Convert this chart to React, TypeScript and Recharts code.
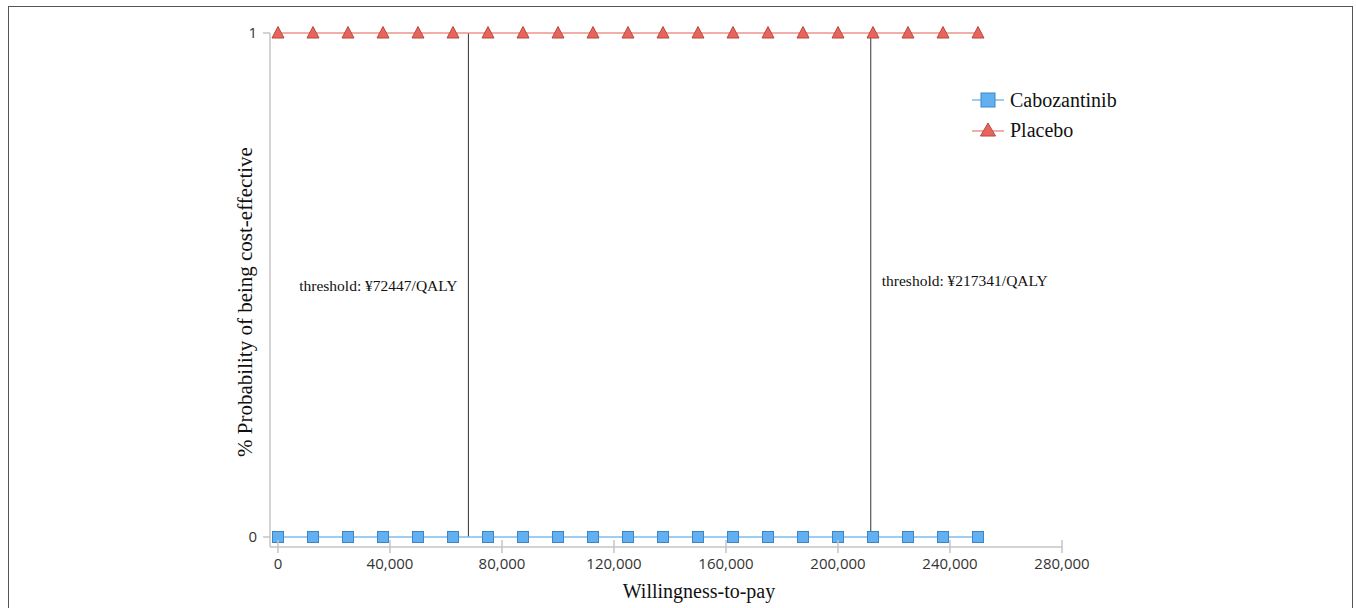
import React from 'react';
import { LineChart, Line, XAxis, YAxis, ReferenceLine, Label } from 'recharts';

const wtpValues = [0, 12500, 25000, 37500, 50000, 62500, 75000, 87500, 100000, 112500, 125000, 137500, 150000, 162500, 175000, 187500, 200000, 212500, 225000, 237500, 250000];
const cabozantinibProb = [0, 0, 0, 0, 0, 0, 0, 0, 0, 0, 0, 0, 0, 0, 0, 0, 0, 0, 0, 0, 0];
const placeboProb = [1, 1, 1, 1, 1, 1, 1, 1, 1, 1, 1, 1, 1, 1, 1, 1, 1, 1, 1, 1, 1];
const xTicks = [0, 40000, 80000, 120000, 160000, 200000, 240000, 280000];
const yTicks = [0, 1];
const thresholdX = [68000, 211700];
const thresholdLabels = ['threshold: ¥72447/QALY', 'threshold: ¥217341/QALY'];
const seriesNames = ['Cabozantinib', 'Placebo'];

const data = wtpValues.map((w, i) => ({ wtp: w, cabo: cabozantinibProb[i], placebo: placeboProb[i] }));

const SERIF = '"Liberation Serif", "Times New Roman", serif';
const SANS = '"Open Sans", "Noto Sans", sans-serif';
const AXIS_COLOR = '#c4c4c4';
const X_TICK_SIZE = 6;
const X_TICK_MARGIN = 5;

const BLUE_FILL = '#62b0f2';
const BLUE_STROKE = '#3d86c6';
const BLUE_LINE = '#7dbdee';
const RED_FILL = '#e8655c';
const RED_STROKE = '#b84840';
const RED_LINE = '#f0938c';

const SquareDot = (p: any) => {
  if (p.cx == null || p.cy == null) return null;
  return <rect key={`s${p.index}`} x={p.cx - 5.5} y={p.cy - 5.5} width={11} height={11} fill={BLUE_FILL} stroke={BLUE_STROKE} strokeWidth={1} />;
};
const TriangleDot = (p: any) => {
  if (p.cx == null || p.cy == null) return null;
  const { cx, cy } = p;
  return <polygon key={`t${p.index}`} points={`${cx},${cy - 6.5} ${cx + 6},${cy + 5} ${cx - 6},${cy + 5}`} fill={RED_FILL} stroke={RED_STROKE} strokeWidth={1} />;
};

const fmt = (v: number) => v.toLocaleString('en-US');

const XTick = (props: any) => {
  const { x, y, payload } = props;
  const axisY = y - X_TICK_SIZE - X_TICK_MARGIN;
  return (
    <g>
      <line x1={x} x2={x} y1={axisY - 7} y2={axisY} stroke={AXIS_COLOR} strokeWidth={1.5} />
      <text x={x} y={y} dy="0.71em" textAnchor="middle" fontSize={15} fill="#333" fontFamily={SANS}>{fmt(payload.value)}</text>
    </g>
  );
};

const YTitle = (props: any) => {
  const vb = props.viewBox;
  const cx = vb.x + vb.width / 2 + 5;
  const cy = vb.y + vb.height / 2 + 12;
  return (
    <text x={cx} y={cy} transform={`rotate(-90 ${cx} ${cy})`} textAnchor="middle" dominantBaseline="central" fontSize={21} fontFamily={SERIF} fill="#111">
      % Probability of being cost-effective
    </text>
  );
};

const XTitle = (props: any) => {
  const vb = props.viewBox;
  const cx = vb.x + vb.width / 2 + 33;
  const cy = vb.y + vb.height + 14;
  return (
    <text x={cx} y={cy} textAnchor="middle" dominantBaseline="central" fontSize={20} fontFamily={SERIF} fill="#111">
      Willingness-to-pay
    </text>
  );
};

const LegendBox = () => {
  const items = [
    { name: seriesNames[0], kind: 'square' },
    { name: seriesNames[1], kind: 'triangle' },
  ];
  return (
    <div style={{ position: 'absolute', left: 972, top: 85, display: 'flex', flexDirection: 'column' }}>
      {items.map((it) => (
        <div key={it.name} style={{ display: 'flex', alignItems: 'center', height: 30 }}>
          <svg width={34} height={18} style={{ marginRight: 4 }}>
            {it.kind === 'square' ? (
              <g>
                <line x1={0} x2={32} y1={9} y2={9} stroke={BLUE_LINE} strokeWidth={1.5} />
                <rect x={9} y={2} width={14} height={14} fill={BLUE_FILL} stroke={BLUE_STROKE} />
              </g>
            ) : (
              <g>
                <line x1={0} x2={32} y1={10} y2={10} stroke={RED_LINE} strokeWidth={1.5} />
                <polygon points="16,2 23.5,15 8.5,15" fill={RED_FILL} stroke={RED_STROKE} />
              </g>
            )}
          </svg>
          <span style={{ fontFamily: SERIF, fontSize: 20, color: '#111' }}>{it.name}</span>
        </div>
      ))}
    </div>
  );
};

export default function App() {
  return (
    <div style={{ position: 'absolute', left: 0, top: 0, width: 1356, height: 608, overflow: 'hidden', background: '#fff' }}>
      <div style={{ position: 'absolute', left: 8, top: 6, width: 1343, height: 610, borderTop: '1px solid #555', borderLeft: '1px solid #555', borderRight: '1px solid #555' }} />
      <div style={{ position: 'absolute', left: 0, top: 0 }}>
        <LineChart width={1356} height={608} data={data} margin={{ top: 33, right: 294, bottom: 31, left: 210 }}>
          <XAxis
            dataKey="wtp"
            type="number"
            domain={[0, 280000]}
            ticks={xTicks}
            padding={{ left: 8, right: 0 }}
            height={30}
            tickSize={X_TICK_SIZE}
            tickMargin={X_TICK_MARGIN}
            stroke={AXIS_COLOR}
            axisLine={{ stroke: AXIS_COLOR, strokeWidth: 1.5 }}
            tickLine={{ stroke: AXIS_COLOR, strokeWidth: 1.5 }}
            tick={<XTick />}
            interval={0}
          >
            <Label content={<XTitle />} />
          </XAxis>
          <YAxis
            type="number"
            domain={[0, 1]}
            ticks={yTicks}
            padding={{ top: 0, bottom: 10 }}
            width={60}
            tickSize={7}
            tickMargin={6}
            axisLine={{ stroke: AXIS_COLOR, strokeWidth: 1.5 }}
            tickLine={{ stroke: AXIS_COLOR, strokeWidth: 1.5 }}
            tick={{ fontSize: 15, fill: '#333', fontFamily: SANS }}
          >
            <Label content={<YTitle />} />
          </YAxis>
          <ReferenceLine
            segment={[{ x: thresholdX[0], y: 0 }, { x: thresholdX[0], y: 1 }]}
            stroke="#333"
            strokeWidth={1}
            label={{ value: thresholdLabels[0], position: 'left', offset: 11, fontSize: 15.5, fontFamily: SERIF, fill: '#111' }}
          />
          <ReferenceLine
            segment={[{ x: thresholdX[1], y: 0 }, { x: thresholdX[1], y: 1 }]}
            stroke="#333"
            strokeWidth={1}
            label={{ value: thresholdLabels[1], position: 'right', offset: 11, dy: -5, fontSize: 15.5, fontFamily: SERIF, fill: '#111' }}
          />
          <Line dataKey="cabo" name={seriesNames[0]} stroke={BLUE_LINE} strokeWidth={1.5} dot={SquareDot} isAnimationActive={false} />
          <Line dataKey="placebo" name={seriesNames[1]} stroke={RED_LINE} strokeWidth={1.5} dot={TriangleDot} isAnimationActive={false} />
        </LineChart>
      </div>
      <LegendBox />
    </div>
  );
}
